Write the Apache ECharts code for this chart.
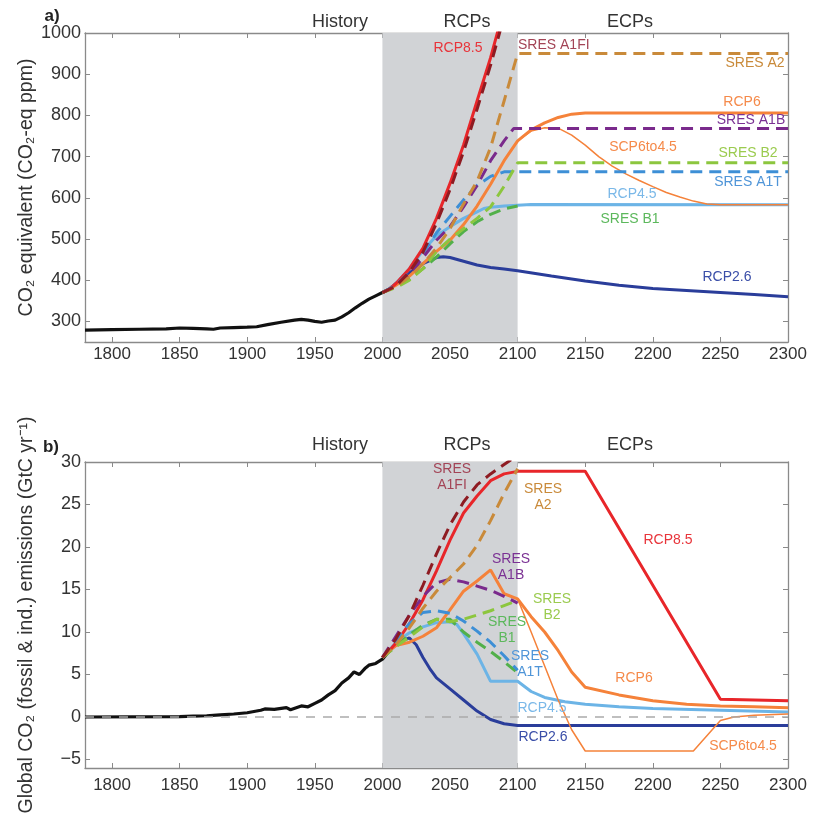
<!DOCTYPE html>
<html>
<head>
<meta charset="utf-8">
<script src="https://cdn.jsdelivr.net/npm/echarts@6/dist/echarts.min.js"></script>
<style>html,body{margin:0;padding:0;background:#fff}#chart{width:820px;height:814px}</style>
</head>
<body>
<div id="chart"></div>
<script>
// ticks
var yearTicks = [1800, 1850, 1900, 1950, 2000, 2050, 2100, 2150, 2200, 2250, 2300];
var ticksA = [300, 400, 500, 600, 700, 800, 900, 1000];
var ticksB = [-5, 0, 5, 10, 15, 20, 25, 30];

// a) CO2 equivalent (ppm), [year, value]
var histA = [[1780,279],[1800,280],[1820,281],[1840,282],[1850,284],[1860,283],[1870,282],[1875,281],[1880,284],[1890,285],[1900,286],[1907,287],[1915,292],[1925,298],[1935,303],[1940,305],[1945,303],[1950,300],[1955,298],[1960,301],[1965,303],[1970,311],[1975,321],[1980,333],[1985,344],[1990,354],[1995,362],[2000,370],[2005,378]];
var rcp85A = [[2005,378],[2010,392],[2020,428],[2030,478],[2040,550],[2050,635],[2060,728],[2070,835],[2080,940],[2090,1060],[2100,1190]];
var a1fiA = [[2000,370],[2010,386],[2020,420],[2030,468],[2040,538],[2050,620],[2060,712],[2070,815],[2080,922],[2090,1040],[2100,1150]];
var a2A = [[2000,370],[2010,385],[2020,408],[2030,440],[2040,478],[2050,525],[2060,585],[2070,640],[2080,722],[2090,835],[2100,950],[2300,950]];
var a1bA = [[2000,370],[2010,386],[2020,415],[2030,455],[2040,497],[2050,530],[2060,578],[2070,630],[2080,690],[2090,738],[2097,768],[2300,768]];
var b2A = [[2000,370],[2010,382],[2020,400],[2030,428],[2040,470],[2050,500],[2060,525],[2070,550],[2080,578],[2090,628],[2100,685],[2300,685]];
var a1tA = [[2000,370],[2010,388],[2020,420],[2030,465],[2040,515],[2050,555],[2060,595],[2070,630],[2080,652],[2090,663],[2300,663]];
var b1A = [[2000,370],[2010,384],[2020,403],[2030,428],[2040,456],[2050,488],[2060,518],[2070,542],[2080,560],[2090,573],[2100,580]];
var rcp45A = [[2005,378],[2010,392],[2020,428],[2030,472],[2040,508],[2050,530],[2060,550],[2070,566],[2075,574],[2080,577],[2090,580],[2100,582],[2110,584],[2300,583]];
var rcp6A = [[2005,378],[2010,388],[2020,410],[2030,440],[2040,470],[2050,497],[2060,535],[2070,580],[2080,633],[2090,690],[2100,738],[2110,765],[2120,782],[2130,795],[2140,803],[2150,806],[2300,806]];
var scp645A = [[2100,738],[2110,762],[2120,770],[2130,769],[2140,752],[2150,728],[2160,700],[2170,677],[2180,658],[2190,642],[2200,627],[2210,613],[2220,602],[2230,592],[2240,585],[2250,583],[2300,583]];
var rcp26A = [[2005,378],[2010,392],[2020,418],[2030,440],[2040,455],[2045,457],[2050,455],[2060,446],[2070,437],[2080,431],[2090,427],[2100,423],[2125,410],[2150,398],[2175,388],[2200,380],[2225,375],[2250,370],[2275,365],[2300,360]];

// b) global CO2 emissions (GtC/yr), [year, value]
var histB = [[1780,0],[1850,0.05],[1860,0.1],[1870,0.15],[1880,0.25],[1890,0.35],[1900,0.5],[1910,0.8],[1913,0.95],[1920,0.9],[1929,1.1],[1932,0.85],[1940,1.3],[1945,1.2],[1950,1.6],[1955,2.0],[1960,2.6],[1965,3.1],[1970,4.0],[1975,4.6],[1979,5.3],[1983,5.0],[1987,5.7],[1990,6.1],[1995,6.3],[2000,6.8],[2005,7.8]];
var rcp85B = [[2005,7.8],[2010,8.7],[2020,11.0],[2030,13.8],[2040,17.2],[2050,20.8],[2060,24.0],[2070,26.0],[2080,27.8],[2090,28.6],[2100,28.9],[2150,28.9],[2250,2.1],[2300,1.9]];
var a1fiB = [[2000,7.0],[2010,9.2],[2020,12.0],[2030,15.5],[2040,19.2],[2050,22.6],[2060,25.3],[2070,27.3],[2080,28.6],[2090,29.7],[2100,30.8]];
var a2B = [[2000,7.0],[2010,8.5],[2020,10.5],[2030,12.8],[2040,14.8],[2050,16.4],[2060,18.0],[2070,20.2],[2080,23.1],[2090,26.3],[2100,29.2]];
var a1bB = [[2000,7.0],[2010,9.5],[2020,12.0],[2030,14.2],[2040,15.8],[2050,16.2],[2060,15.9],[2070,15.4],[2080,14.9],[2090,14.2],[2100,13.4]];
var b2B = [[2000,7.0],[2010,8.3],[2020,9.4],[2030,10.6],[2040,11.5],[2050,11.2],[2060,11.5],[2070,12.0],[2080,12.5],[2090,13.1],[2100,13.7]];
var a1tB = [[2000,7.0],[2010,9.0],[2020,11.0],[2030,12.3],[2040,12.5],[2050,12.2],[2060,11.3],[2070,10.1],[2080,8.8],[2090,7.2],[2100,5.5]];
var b1B = [[2000,7.0],[2010,8.3],[2020,9.7],[2030,10.8],[2040,11.5],[2050,11.5],[2060,10.0],[2070,8.8],[2080,7.7],[2090,6.5],[2100,5.2]];
var rcp6B = [[2005,7.8],[2010,8.4],[2020,8.8],[2030,9.5],[2040,10.5],[2050,12.6],[2060,14.8],[2070,16.0],[2080,17.3],[2090,14.5],[2100,13.9],[2110,11.8],[2120,10.0],[2130,7.8],[2140,5.3],[2150,3.5],[2175,2.6],[2200,1.9],[2225,1.5],[2250,1.3],[2275,1.2],[2300,1.1]];
var scp645B = [[2100,13.9],[2110,10.0],[2120,6.0],[2130,2.0],[2140,-1.5],[2150,-4.0],[2230,-4.0],[2250,-0.4],[2260,0.0],[2275,0.2],[2300,0.35]];
var rcp45B = [[2005,7.8],[2010,8.8],[2020,9.9],[2030,10.6],[2040,11.1],[2050,11.2],[2055,10.9],[2060,9.8],[2070,7.4],[2080,4.2],[2100,4.2],[2110,3.0],[2120,2.3],[2135,1.8],[2150,1.5],[2175,1.2],[2200,1.0],[2250,0.8],[2300,0.6]];
var rcp26B = [[2005,7.8],[2010,8.5],[2015,9.0],[2020,9.3],[2025,8.5],[2030,7.0],[2035,5.7],[2040,4.6],[2050,3.3],[2060,2.0],[2070,0.7],[2080,-0.3],[2090,-0.8],[2100,-1.0],[2300,-1.0]];

var C = {
  hist: '#111', rcp85: '#e8262a', a1fi: '#8e1b22', a2: '#c98a3a', a1b: '#7a2a8c',
  b2: '#8cc63e', a1t: '#3d8fd6', b1: '#52b04a', rcp45: '#6cb4e6', rcp6: '#f5823a', rcp26: '#2a3d9a'
};
var FONT = 'Liberation Sans, Arial, sans-serif';
var axisGray = '#8a8a8a';
var plain = function (v) { return String(v).replace('-', '\u2212'); };

function xAxes(grid) {
  var base = {
    type: 'value', gridIndex: grid, min: 1780, max: 2300,
    axisLine: { onZero: false, lineStyle: { color: axisGray, width: 1.3 } },
    axisTick: { inside: true, length: 5, customValues: yearTicks, lineStyle: { color: axisGray } },
    splitLine: { show: false }
  };
  var bottom = echarts.util.merge({
    position: 'bottom',
    axisLabel: { customValues: yearTicks, formatter: plain, color: '#333', fontSize: 17, fontFamily: FONT, margin: grid ? 9 : 4 }
  }, base);
  var top = echarts.util.merge({ position: 'top', axisLabel: { show: false } }, base);
  return [bottom, top];
}
function yAxes(grid, min, max, ticks, name) {
  var base = {
    type: 'value', gridIndex: grid, min: min, max: max,
    axisLine: { show: true, onZero: false, lineStyle: { color: axisGray, width: 1.3 } },
    axisTick: { show: true, inside: true, length: 5, customValues: ticks, lineStyle: { color: axisGray } },
    splitLine: { show: false }
  };
  var left = echarts.util.merge({
    position: 'left', name: name, nameLocation: 'middle', nameGap: 48, nameMoveOverlap: false,
    nameTextStyle: { color: '#333', fontSize: 19.5, fontFamily: FONT },
    axisLabel: { customValues: ticks, formatter: plain, color: '#333', fontSize: 18, fontFamily: FONT, margin: 4 }
  }, base);
  var right = echarts.util.merge({ position: 'right', axisLabel: { show: false } }, base);
  return [left, right];
}

function line(name, data, color, grid, dashed, width) {
  return {
    name: name, type: 'line', data: data, xAxisIndex: grid * 2, yAxisIndex: grid * 2,
    showSymbol: false, symbol: 'none', clip: true, animation: false,
    lineStyle: { color: color, width: width || 3, type: dashed ? [12, 7] : 'solid' }
  };
}

var shade = {
  silent: true,
  itemStyle: { color: '#d1d3d6' },
  data: [[{ xAxis: 2000 }, { xAxis: 2100 }]]
};

var seriesA = [
  Object.assign(line('History', histA, C.hist, 0, false, 3.2), { markArea: shade }),
  line('RCP2.6', rcp26A, C.rcp26, 0),
  line('RCP4.5', rcp45A, C.rcp45, 0),
  line('SCP6to4.5', scp645A, C.rcp6, 0, false, 1.5),
  line('RCP6', rcp6A, C.rcp6, 0),
  line('RCP8.5', rcp85A, C.rcp85, 0),
  line('SRES B1', b1A, C.b1, 0, true),
  line('SRES A1T', a1tA, C.a1t, 0, true),
  line('SRES B2', b2A, C.b2, 0, true),
  line('SRES A1B', a1bA, C.a1b, 0, true),
  line('SRES A2', a2A, C.a2, 0, true),
  line('SRES A1FI', a1fiA, C.a1fi, 0, true)
];
var seriesB = [
  Object.assign(line('History', histB, C.hist, 1, false, 3.2), {
    markArea: shade,
    markLine: {
      silent: true, symbol: 'none', label: { show: false },
      lineStyle: { color: '#aaa', type: [9, 8], width: 1.5 },
      data: [{ yAxis: 0 }]
    }
  }),
  line('RCP2.6', rcp26B, C.rcp26, 1),
  line('RCP4.5', rcp45B, C.rcp45, 1),
  line('SCP6to4.5', scp645B, C.rcp6, 1, false, 1.5),
  line('RCP6', rcp6B, C.rcp6, 1),
  line('RCP8.5', rcp85B, C.rcp85, 1),
  line('SRES B1', b1B, C.b1, 1, true),
  line('SRES A1T', a1tB, C.a1t, 1, true),
  line('SRES B2', b2B, C.b2, 1, true),
  line('SRES A1B', a1bB, C.a1b, 1, true),
  line('SRES A2', a2B, C.a2, 1, true),
  line('SRES A1FI', a1fiB, C.a1fi, 1, true)
];

function txt(t, x, y, color, size, align, weight) {
  return {
    type: 'text', x: x, y: y, z: 100,
    style: {
      text: t, fill: color, fontSize: size, fontFamily: FONT, fontWeight: weight || 'normal',
      align: align || 'center', verticalAlign: 'middle', lineHeight: 16
    }
  };
}

var graphics = [
  txt('a)', 52, 16, '#222', 17, 'center', 'bold'),
  txt('b)', 51, 447, '#222', 17, 'center', 'bold'),
  txt('History', 340, 22, '#333', 18), txt('RCPs', 467, 22, '#333', 18), txt('ECPs', 630, 22, '#333', 18),
  txt('History', 340, 445, '#333', 18), txt('RCPs', 467, 445, '#333', 18), txt('ECPs', 630, 445, '#333', 18),
  // panel a labels
  txt('RCP8.5', 458, 48, '#e8343a', 14),
  txt('SRES A1FI', 518, 45, '#a34456', 14, 'left'),
  txt('SRES A2', 755, 63, '#c98a3a', 14),
  txt('RCP6', 742, 102, '#f58a4a', 14),
  txt('SRES A1B', 751, 120, '#7b3294', 14),
  txt('SCP6to4.5', 643, 147, '#f58a4a', 14),
  txt('SRES B2', 748, 153, '#9bcb4f', 14),
  txt('SRES A1T', 748, 182, '#4f95d8', 14),
  txt('RCP4.5', 632, 194, '#7ab8e8', 14),
  txt('SRES B1', 630, 219, '#5cb85c', 14),
  txt('RCP2.6', 727, 277, '#3a4ea8', 14),
  // panel b labels
  txt('SRES\nA1FI', 452, 477, '#a34456', 14),
  txt('SRES\nA2', 543, 497, '#c98a3a', 14),
  txt('RCP8.5', 668, 540, '#e8343a', 14),
  txt('SRES\nA1B', 511, 567, '#7b3294', 14),
  txt('SRES\nB2', 552, 607, '#9bcb4f', 14),
  txt('SRES\nB1', 507, 630, '#5cb85c', 14),
  txt('SRES\nA1T', 530, 664, '#4f95d8', 14),
  txt('RCP6', 634, 678, '#f58a4a', 14),
  txt('RCP4.5', 542, 708, '#7ab8e8', 14),
  txt('RCP2.6', 543, 737, '#3a4ea8', 14),
  txt('SCP6to4.5', 743, 746, '#f58a4a', 14)
];

var chart = echarts.init(document.getElementById('chart'), null, { renderer: 'canvas' });
chart.setOption({
  backgroundColor: '#fff',
  animation: false,
  grid: [
    { left: 85, top: 33, width: 703, height: 309, outerBoundsMode: 'none' },
    { left: 85, top: 462, width: 703, height: 306, outerBoundsMode: 'none' }
  ],
  xAxis: xAxes(0).concat(xAxes(1)),
  yAxis: yAxes(0, 250, 1000, ticksA, 'CO\u2082 equivalent (CO\u2082-eq ppm)')
    .concat(yAxes(1, -6, 30, ticksB, 'Global CO\u2082 (fossil & ind.) emissions (GtC yr\u207B\u00B9)')),
  series: seriesA.concat(seriesB),
  graphic: graphics
});
</script>
</body>
</html>
